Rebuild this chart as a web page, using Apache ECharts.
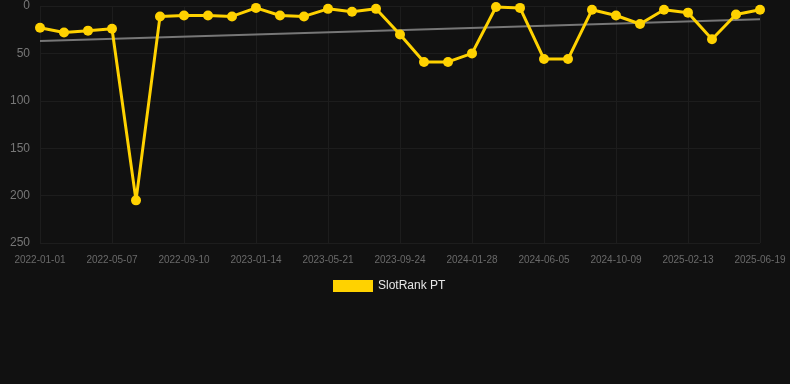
<!DOCTYPE html>
<html>
<head>
<meta charset="utf-8">
<script src="https://cdn.jsdelivr.net/npm/echarts@6/dist/echarts.min.js"></script>
<style>
  html, body { margin: 0; padding: 0; background: #111111; }
  #chart { width: 790px; height: 384px; }
</style>
</head>
<body>
<div id="chart"></div>
<script>
// ── Data ──────────────────────────────────────────────────────────────
const dates = [
  '2022-01-01', '2022-02-12', '2022-03-26',
  '2022-05-07', '2022-06-18', '2022-07-30',
  '2022-09-10', '2022-10-22', '2022-12-03',
  '2023-01-14', '2023-02-25', '2023-04-08',
  '2023-05-21', '2023-07-02', '2023-08-13',
  '2023-09-24', '2023-11-05', '2023-12-17',
  '2024-01-28', '2024-03-11', '2024-04-23',
  '2024-06-05', '2024-07-17', '2024-08-28',
  '2024-10-09', '2024-11-20', '2025-01-01',
  '2025-02-13', '2025-03-27', '2025-05-08',
  '2025-06-19'
];
const rankPT = [
  23, 28, 26, 24, 205, 11, 10, 10, 11, 2,
  10, 11, 3, 6, 3, 30, 59, 59, 50, 1,
  2, 56, 56, 4, 10, 19, 4, 7, 35, 9,
  4
];
// trend line: first and last point only
const trend = [37].concat(new Array(29).fill(null), [14]);
const yTicks = [0, 50, 100, 150, 200, 250];

// ── Style ─────────────────────────────────────────────────────────────
const fontFamily = 'Arial, "Liberation Sans", sans-serif';
const yellow = '#FFD200';
const gridLine = '#1d1d1d';

const chart = echarts.init(document.getElementById('chart'), null, { renderer: 'canvas' });
chart.setOption({
  animation: false,
  backgroundColor: '#111111',
  grid: { left: 40, right: 30, top: 6, bottom: 141 },
  legend: {
    show: true,
    data: [{ name: 'SlotRank PT', icon: 'rect' }],
    top: 275,
    left: 328,
    itemWidth: 40,
    itemHeight: 12,
    itemGap: 10,
    textStyle: { color: '#e6e6e6', fontSize: 12, fontFamily }
  },
  xAxis: {
    type: 'category',
    data: dates,
    boundaryGap: false,
    axisLine: { show: false },
    axisTick: { show: false },
    axisLabel: { interval: 2, color: '#6a6a6a', fontSize: 10, fontFamily, margin: 12 },
    splitLine: { show: true, interval: 2, lineStyle: { color: gridLine, width: 1 } }
  },
  yAxis: {
    type: 'value',
    inverse: true,
    min: yTicks[0],
    max: yTicks[yTicks.length - 1],
    interval: 50,
    axisLine: { show: false },
    axisTick: { show: false },
    axisLabel: { color: '#777777', fontSize: 12, fontFamily, margin: 10 },
    splitLine: { lineStyle: { color: gridLine, width: 1 } }
  },
  series: [
    {
      name: 'SlotRank PT',
      type: 'line',
      data: rankPT,
      symbol: 'circle',
      symbolSize: 10,
      lineStyle: { color: yellow, width: 3 },
      itemStyle: { color: yellow },
      z: 3
    },
    {
      name: 'Trend',
      type: 'line',
      data: trend,
      connectNulls: true,
      symbol: 'none',
      lineStyle: { color: '#777777', width: 2 },
      itemStyle: { color: '#777777' },
      z: 2
    }
  ]
});
</script>
</body>
</html>
